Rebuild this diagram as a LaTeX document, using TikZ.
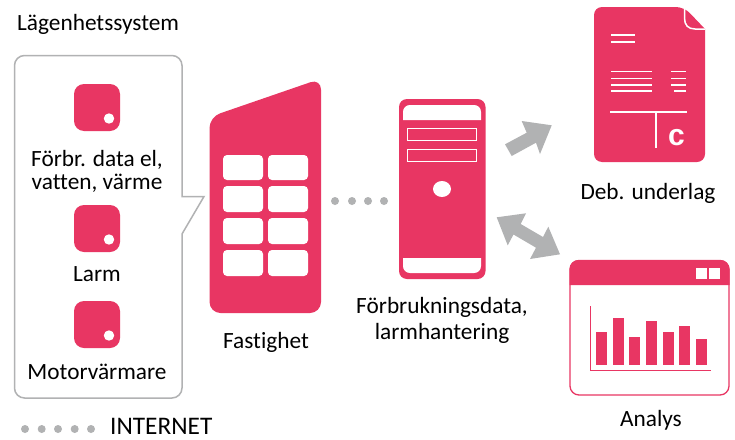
\documentclass[tikz,border=0pt]{standalone}
\usepackage{fontspec}
\setmainfont{Carlito}[Ligatures=NoCommon]
\newfontfamily\boldc{Liberation Sans}
\definecolor{pinkc}{HTML}{E83663}
\definecolor{grayc}{HTML}{B1B2B3}
\tikzset{
  label/.style={font=\fontsize{23.3}{23}\selectfont,text=black,inner sep=0pt,align=center,anchor=base},
  pinkfill/.style={fill=pinkc,draw=none},
  whitefill/.style={fill=white,draw=none},
  sensor/.style={fill=pinkc,draw=none,rounded corners=10pt},
  win/.style={fill=white,draw=none,rounded corners=4pt},
  dotc/.style={fill=grayc,draw=none},
  wline/.style={draw=white,line width=1.5pt},
  bar/.style={fill=pinkc,draw=none},
  bigarrow/.style={fill=grayc,draw=none},
}
\begin{document}
\begin{tikzpicture}[x=1pt,y=-1pt]
\useasboundingbox (0,0) rectangle (735,439);
\fill[white] (0,0) rectangle (735,439);
% bubble
\draw[draw=grayc,line width=1.5pt,rounded corners=10pt,fill=white]
  (14.5,55.5) -- (182,55.5) -- (182,120) [sharp corners] -- (182,196.5) -- (204,196.5) -- (182,234) [rounded corners=10pt] -- (182,398) -- (14.5,398) -- cycle;
% sensors
\foreach \y in {84,205,301}{
  \fill[sensor] (74,\y) rectangle (120,\y+47);
  \fill[white] (109,\y+34.5) circle (5.2);
}
% building
\fill[pinkfill,rounded corners=11pt] (209.5,313) -- (209.5,117) -- (321,78.6) -- (321,313) -- cycle;
\foreach \a/\b in {155/180,186/212,218/244,250/276}{
  \fill[win] (223,\a) rectangle (263,\b);
  \fill[win] (268,\a) rectangle (308,\b);
}
% dots
\foreach \x in {335,352,368,384}{\fill[dotc] (\x,201) circle (4);}
\foreach \x in {25,41.7,58,74.7,91}{\fill[dotc] (\x,429) circle (4);}
% server
\fill[pinkfill,rounded corners=8pt] (399,99) rectangle (485.5,279);
\fill[whitefill] (403,120) -- (403,112) .. controls (403,108) and (406,105) .. (410,105) -- (474,105) .. controls (478,105) and (481,108) .. (481,112) -- (481,120) -- cycle;
\fill[whitefill] (403,258) -- (403,266) .. controls (403,270) and (406,273) .. (410,273) -- (474,273) .. controls (478,273) and (481,270) .. (481,266) -- (481,258) -- cycle;
\draw[draw=white,line width=1pt] (407.5,128.5) rectangle (476.5,140.5);
\draw[draw=white,line width=1pt] (407.5,149) rectangle (476.5,161);
\fill[white] (442,189) ellipse (9 and 8);
% arrows
\fill[bigarrow] (505,144.3) -- (526.7,132.7) -- (521.7,121) -- (551.7,125.3) -- (540,154) -- (536,142.7) -- (511.7,156) -- cycle;
\fill[bigarrow] (496.7,217.3) -- (526,213.3) -- (520.7,224) -- (543,237) -- (548.3,226.7) -- (560,254.3) -- (530,259) -- (536,247.7) -- (513.5,234.5) -- (507.7,245.3) -- cycle;
% document
\fill[pinkfill,rounded corners=8pt] (594,7) -- (684,7) [sharp corners] -- (705,29) [rounded corners=8pt] -- (705,162) -- (594,162) -- cycle;
\draw[wline] (684.5,7) -- (684.5,18) .. controls (684.5,25) and (688,29) .. (695,29) -- (705,29);
\draw[wline] (611,35) -- (634.7,35);
\draw[wline] (611,42) -- (634.7,42);
\foreach \y in {71.7,78.7,85,91}{\draw[wline] (611,\y) -- (652.3,\y);}
\foreach \y in {71.7,78.7,85}{\draw[wline] (671.3,\y) -- (685.7,\y);}
\draw[wline] (674.3,91) -- (685.7,91);
\draw[wline] (610,112) -- (687,112);
\draw[wline] (656,112) -- (656,148);
\node[inner sep=0pt,text=white,anchor=base,font=\boldc\bfseries\fontsize{30}{30}\selectfont] (cee) at (676.5,145.5) {c};
% window
\draw[draw=pinkc,line width=1.3pt,fill=white,rounded corners=9pt] (570,260.5) rectangle (729,395);
\fill[pinkfill] (569.5,285) -- (569.5,269) .. controls (569.5,264) and (573.5,260) .. (578.5,260) -- (720.5,260) .. controls (725.5,260) and (729.5,264) .. (729.5,269) -- (729.5,285) -- cycle;
\fill[white] (696,268.3) rectangle (707.3,279);
\fill[white] (709,268.3) rectangle (720,279);
\draw[draw=pinkc,line width=1.2pt] (590.7,306) -- (590.7,370.5) -- (711,370.5);
\foreach \x/\t in {596/332,613/318,629/337,646/321,663/332,679/326,696/339}{
  \fill[bar] (\x,\t) rectangle (\x+11,365);
}
% labels
\node[label,anchor=base west] (sys) at (17,30) {Lägenhetssystem};
\node[label] (l1) at (97,189) {Förbr. data el,\\vatten, värme};
\node[label] (l2) at (97,281) {Larm};
\node[label] (l3) at (97,379) {Motorvärmare};
\node[label] (l4) at (266,348) {Fastighet};
\node[label,font=\fontsize{23.3}{26}\selectfont] (l5) at (442,339) {Förbrukningsdata,\\larmhantering};
\node[label] (l6) at (648,199) {Deb. underlag};
\node[label] (l7) at (651,426) {Analys};
\node[label,anchor=base west,font=\fontsize{25.3}{26}\selectfont] (l8) at (110,434.5) {INTERNET};
\end{tikzpicture}
\end{document}
